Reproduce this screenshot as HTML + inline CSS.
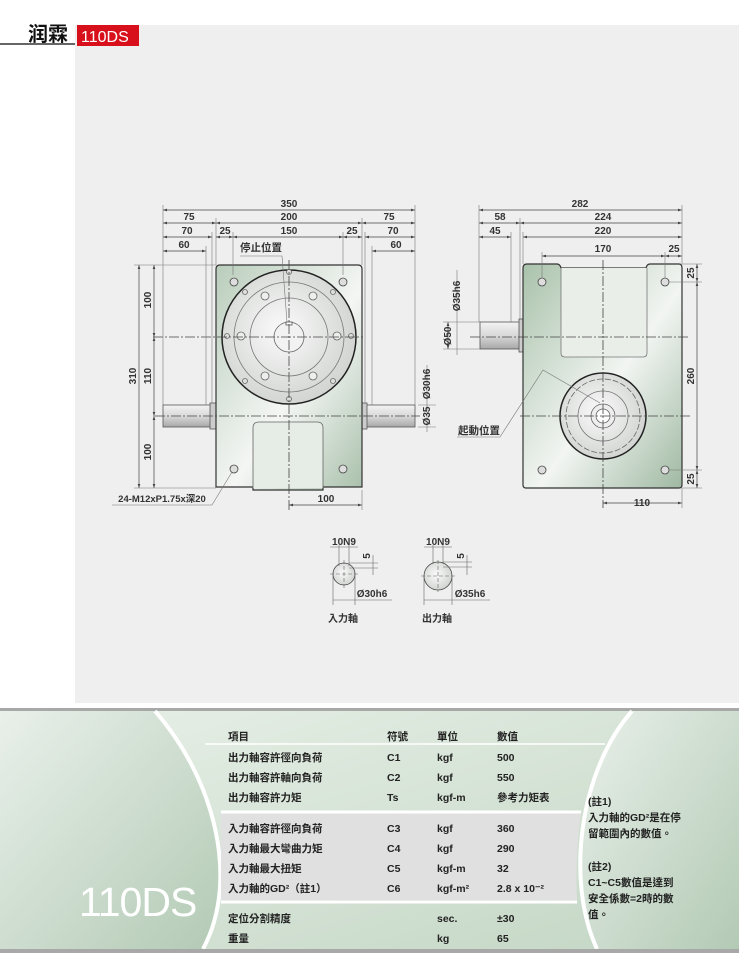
<!DOCTYPE html>
<html><head><meta charset="utf-8"><style>
html,body{margin:0;padding:0;background:#fff;}
svg{display:block;}
text{font-family:"Liberation Sans","Noto Sans CJK TC",sans-serif;}
</style></head><body>
<svg width="739" height="956" viewBox="0 0 739 956" xmlns="http://www.w3.org/2000/svg">
<defs>
<linearGradient id="bd" x1="0" y1="0" x2="1" y2="1">
<stop offset="0" stop-color="#b9cdbb"/><stop offset="0.55" stop-color="#f4f6f4"/><stop offset="1" stop-color="#a9c0ab"/></linearGradient>
<linearGradient id="bd2" x1="0" y1="0" x2="1" y2="1">
<stop offset="0" stop-color="#a9c2ab"/><stop offset="0.55" stop-color="#f2f5f2"/><stop offset="1" stop-color="#9fb9a2"/></linearGradient>
<radialGradient id="disc" cx="0.45" cy="0.45" r="0.6"><stop offset="0" stop-color="#fafafa"/><stop offset="1" stop-color="#cfd2cf"/></radialGradient>
<linearGradient id="sh" x1="0" y1="0" x2="0" y2="1"><stop offset="0" stop-color="#f3f3f3"/><stop offset="0.5" stop-color="#d9d9d9"/><stop offset="1" stop-color="#a8a8a8"/></linearGradient>
<linearGradient id="tb" x1="0" y1="0" x2="1" y2="1"><stop offset="0" stop-color="#e8f0e8"/><stop offset="1" stop-color="#c3d6c4"/></linearGradient>
<linearGradient id="tl" x1="0" y1="0" x2="1" y2="1"><stop offset="0" stop-color="#e9f0ea"/><stop offset="1" stop-color="#b3cab5"/></linearGradient>
<marker id="a" viewBox="0 0 6 6" refX="6" refY="3" markerWidth="6" markerHeight="6" orient="auto-start-reverse"><path d="M0,1 L6,3 L0,5z" fill="#444"/></marker>
</defs>
<!-- header -->
<rect x="75" y="25" width="664" height="678" fill="#efefef"/>
<text x="28" y="41" font-size="20" font-weight="bold" font-family="'Noto Serif CJK SC',serif" fill="#111">润霖</text>
<rect x="0" y="43" width="75" height="2" fill="#666"/>
<rect x="77" y="25" width="62" height="21" fill="#d8101c"/>
<text x="81" y="42" font-size="16" fill="#fff">110DS</text>

<g stroke="#555" stroke-width="0.8" fill="none">
<!-- LEFT VIEW -->
<rect x="163" y="405" width="50" height="22" fill="url(#sh)"/>
<rect x="210" y="403" width="6" height="26" fill="#ccc"/>
<rect x="364" y="405" width="51" height="22" fill="url(#sh)"/>
<rect x="361" y="403" width="6" height="26" fill="#ccc"/>
<path d="M220,265 H358 Q362,265 362,269 V487 H323 V490 H253 V487 H216 V269 Q216,265 220,265Z" fill="url(#bd)" stroke="#333" stroke-width="1.2"/>
<path d="M253,488 V428 Q253,422 259,422 H317 Q323,422 323,428 V488" fill="#e6ece6" stroke="#666"/>
<circle cx="289" cy="337" r="67" fill="url(#disc)" stroke="#222" stroke-width="1.5"/>
<circle cx="289" cy="337" r="55" fill="none" stroke="#777"/>
<circle cx="289" cy="337" r="39" fill="none" stroke="#777"/>
<circle cx="289" cy="337" r="15" fill="#f2f2f2" stroke="#666"/>
<rect x="286" y="322" width="6" height="3" fill="#fff"/>
<g fill="#ddd" stroke="#666">
<circle cx="289" cy="272" r="2.5"/><circle cx="289" cy="399" r="2.5"/><circle cx="227" cy="336" r="2.5"/><circle cx="351" cy="336" r="2.5"/>
<circle cx="245" cy="292" r="2.5"/><circle cx="333" cy="292" r="2.5"/><circle cx="245" cy="381" r="2.5"/><circle cx="333" cy="381" r="2.5"/>
</g>
<g fill="#eee" stroke="#666">
<circle cx="265" cy="296" r="4"/><circle cx="313" cy="296" r="4"/><circle cx="265" cy="376" r="4"/><circle cx="313" cy="376" r="4"/>
<circle cx="241" cy="336" r="4"/><circle cx="337" cy="336" r="4"/>
</g>
<g fill="#ddd" stroke="#444"><circle cx="234" cy="282" r="4"/><circle cx="343" cy="282" r="4"/><circle cx="234" cy="469" r="4"/><circle cx="343" cy="469" r="4"/></g>
<g stroke="#444" stroke-dasharray="10,2,2,2">
<line x1="153" y1="337" x2="363" y2="337"/><line x1="155" y1="416" x2="420" y2="416"/><line x1="289" y1="260" x2="289" y2="510"/>
</g>
<!-- left dims -->
<g marker-start="url(#a)" marker-end="url(#a)" stroke="#444" stroke-width="0.7">
<line x1="163" y1="210" x2="415" y2="210"/>
<line x1="163" y1="223" x2="216" y2="223"/><line x1="216" y1="223" x2="362" y2="223"/><line x1="362" y1="223" x2="415" y2="223"/>
<line x1="163" y1="237" x2="212" y2="237"/><line x1="216" y1="237" x2="233" y2="237"/><line x1="233" y1="237" x2="343" y2="237"/><line x1="343" y1="237" x2="362" y2="237"/><line x1="365" y1="237" x2="415" y2="237"/>
<line x1="163" y1="251" x2="206" y2="251"/><line x1="372" y1="251" x2="415" y2="251"/>
<line x1="139" y1="265" x2="139" y2="488"/>
<line x1="154" y1="265" x2="154" y2="337"/><line x1="154" y1="337" x2="154" y2="416"/><line x1="154" y1="416" x2="154" y2="488"/>
<line x1="289" y1="505" x2="362" y2="505"/>
</g>
<g stroke="#777" stroke-width="0.6">
<line x1="163" y1="205" x2="163" y2="405"/><line x1="415" y1="205" x2="415" y2="405"/>
<line x1="216" y1="218" x2="216" y2="265"/><line x1="362" y1="218" x2="362" y2="265"/>
<line x1="212" y1="232" x2="212" y2="403"/><line x1="365" y1="232" x2="365" y2="403"/>
<line x1="233" y1="232" x2="233" y2="275"/><line x1="343" y1="232" x2="343" y2="275"/>
<line x1="206" y1="246" x2="206" y2="405"/><line x1="372" y1="246" x2="372" y2="405"/>
<line x1="134" y1="265" x2="216" y2="265"/><line x1="134" y1="488" x2="216" y2="488"/>
<line x1="362" y1="490" x2="362" y2="510"/>
<line x1="418" y1="405" x2="436" y2="405"/><line x1="418" y1="427" x2="436" y2="427"/>
<line x1="427" y1="365" x2="427" y2="432"/>
<polyline points="112,505 212,505 232,472"/>
<polyline points="240,256 282,256 287,322"/>
</g>

<!-- RIGHT VIEW -->
<rect x="480" y="322" width="41" height="27" fill="url(#sh)"/>
<rect x="519" y="319" width="5" height="33" fill="#ccc"/>
<path d="M527,264 H557 Q560,264 561,268 H646 Q647,264 650,264 H679 Q682,264 682,268 V485 Q682,488 679,488 H526 Q523,488 523,485 V268 Q523,264 527,264Z" fill="url(#bd2)" stroke="#333" stroke-width="1.2"/>
<path d="M561,268 V353 Q561,357 565,357 H643 Q647,357 647,353 V268" fill="#e9eee9" stroke="#777"/>
<circle cx="603" cy="416" r="43" fill="url(#disc)" stroke="#222" stroke-width="1.5"/>
<circle cx="603" cy="416" r="37" fill="none" stroke="#666" stroke-dasharray="6,2"/>
<circle cx="603" cy="416" r="25" fill="none" stroke="#777"/>
<circle cx="603" cy="416" r="12" fill="#eee" stroke="#666"/>
<circle cx="603" cy="416" r="7" fill="#fff" stroke="#666"/>
<g fill="#ddd" stroke="#444"><circle cx="542" cy="282" r="4"/><circle cx="665" cy="282" r="4"/><circle cx="542" cy="470" r="4"/><circle cx="665" cy="470" r="4"/></g>
<g stroke="#444" stroke-dasharray="10,2,2,2">
<line x1="470" y1="337" x2="690" y2="337"/><line x1="520" y1="416" x2="690" y2="416"/><line x1="603" y1="260" x2="603" y2="508"/>
</g>
<g marker-start="url(#a)" marker-end="url(#a)" stroke="#444" stroke-width="0.7">
<line x1="479" y1="210" x2="682" y2="210"/>
<line x1="479" y1="223" x2="520" y2="223"/><line x1="520" y1="223" x2="682" y2="223"/>
<line x1="479" y1="237" x2="511" y2="237"/><line x1="523" y1="237" x2="682" y2="237"/>
<line x1="542" y1="256" x2="665" y2="256"/><line x1="665" y1="256" x2="682" y2="256"/>
<line x1="697" y1="264" x2="697" y2="282"/><line x1="697" y1="282" x2="697" y2="470"/><line x1="697" y1="470" x2="697" y2="488"/>
<line x1="603" y1="503" x2="682" y2="503"/>
<line x1="448" y1="322" x2="448" y2="349"/>
</g>
<g stroke="#777" stroke-width="0.6">
<line x1="479" y1="205" x2="479" y2="322"/><line x1="682" y1="205" x2="682" y2="264"/>
<line x1="520" y1="218" x2="520" y2="319"/><line x1="511" y1="232" x2="511" y2="322"/><line x1="523" y1="232" x2="523" y2="264"/>
<line x1="542" y1="252" x2="542" y2="278"/><line x1="665" y1="252" x2="665" y2="278"/>
<line x1="682" y1="264" x2="702" y2="264"/><line x1="669" y1="282" x2="702" y2="282"/><line x1="669" y1="470" x2="702" y2="470"/><line x1="682" y1="488" x2="702" y2="488"/><line x1="682" y1="488" x2="682" y2="508"/>
<line x1="443" y1="322" x2="480" y2="322"/><line x1="443" y1="349" x2="480" y2="349"/>
<line x1="457" y1="270" x2="457" y2="355"/>
<polyline points="457,437 500,437 543,370 600,403"/>
</g>

<!-- keys -->
<circle cx="344" cy="574" r="11" fill="url(#disc)" stroke="#444"/>
<circle cx="438" cy="576" r="14" fill="url(#disc)" stroke="#444"/>
<g stroke="#666" stroke-width="0.6">
<line x1="339" y1="545" x2="339" y2="566"/><line x1="349" y1="545" x2="349" y2="566"/><line x1="330" y1="547" x2="358" y2="547"/>
<line x1="349" y1="563" x2="378" y2="563"/><line x1="349" y1="568" x2="378" y2="568"/><line x1="373" y1="555" x2="373" y2="575"/>
<line x1="333" y1="574" x2="333" y2="605"/><line x1="355" y1="574" x2="355" y2="605"/><line x1="333" y1="600" x2="392" y2="600"/>
<line x1="433" y1="545" x2="433" y2="564"/><line x1="443" y1="545" x2="443" y2="564"/><line x1="424" y1="547" x2="452" y2="547"/>
<line x1="443" y1="562" x2="472" y2="562"/><line x1="443" y1="567" x2="472" y2="567"/><line x1="467" y1="555" x2="467" y2="575"/>
<line x1="424" y1="576" x2="424" y2="605"/><line x1="452" y1="576" x2="452" y2="605"/><line x1="424" y1="600" x2="490" y2="600"/>
<line x1="330" y1="574" x2="358" y2="574" stroke-dasharray="4,2"/><line x1="344" y1="560" x2="344" y2="588" stroke-dasharray="4,2"/>
<line x1="421" y1="576" x2="455" y2="576" stroke-dasharray="4,2"/><line x1="438" y1="560" x2="438" y2="592" stroke-dasharray="4,2"/>
</g>
</g>

<g font-size="10" font-weight="bold" fill="#333" text-anchor="middle">
<text x="289" y="207">350</text><text x="189" y="220">75</text><text x="289" y="220">200</text><text x="389" y="220">75</text>
<text x="187" y="234">70</text><text x="225" y="234">25</text><text x="289" y="234">150</text><text x="352" y="234">25</text><text x="393" y="234">70</text>
<text x="184" y="248">60</text><text x="396" y="248">60</text>
<text x="261" y="251" font-size="10.5">停止位置</text>
<text x="326" y="502">100</text>
<text x="162" y="502" font-size="9.5">24-M12xP1.75x深20</text>
<text x="580" y="207">282</text><text x="500" y="220">58</text><text x="603" y="220">224</text>
<text x="495" y="234">45</text><text x="603" y="234">220</text>
<text x="603" y="252">170</text><text x="674" y="252">25</text>
<text x="642" y="506">110</text>
<text x="479" y="434" font-size="10.5">起動位置</text>
<text x="344" y="545">10N9</text><text x="438" y="545">10N9</text>
<text x="372" y="597">Ø30h6</text><text x="470" y="597">Ø35h6</text>
<text x="343" y="622">入力軸</text><text x="437" y="622">出力軸</text>
<text transform="translate(136,376) rotate(-90)">310</text>
<text transform="translate(151,300) rotate(-90)">100</text>
<text transform="translate(151,376) rotate(-90)">110</text>
<text transform="translate(151,452) rotate(-90)">100</text>
<text transform="translate(430,384) rotate(-90)">Ø30h6</text>
<text transform="translate(430,416) rotate(-90)">Ø35</text>
<text transform="translate(460,296) rotate(-90)">Ø35h6</text>
<text transform="translate(451,336) rotate(-90)">Ø50</text>
<text transform="translate(694,273) rotate(-90)">25</text>
<text transform="translate(694,376) rotate(-90)">260</text>
<text transform="translate(694,479) rotate(-90)">25</text>
<text transform="translate(370,556) rotate(-90)">5</text>
<text transform="translate(464,556) rotate(-90)">5</text>
</g>

<!-- bottom table -->
<rect x="0" y="708" width="739" height="3" fill="#a8a8a8"/>
<rect x="0" y="711" width="739" height="238" fill="url(#tb)"/>
<path d="M0,711 H155 C215,780 240,880 203,949 H0Z" fill="url(#tl)"/>
<path d="M155,711 C215,780 240,880 203,949" fill="none" stroke="#fff" stroke-width="4"/>
<path d="M632,711 C580,770 565,880 597,949 H739 V711Z" fill="url(#tl)"/>
<path d="M632,711 C580,770 565,880 597,949" fill="none" stroke="#fff" stroke-width="4"/>
<path d="M221,812 H581 Q575,855 577,900 H221Z" fill="#e0e0e0"/>
<path d="M221,812 H581" stroke="#fff" stroke-width="3"/>
<path d="M221,902 H577" stroke="#fff" stroke-width="3"/>
<path d="M205,744 H605" stroke="#fff" stroke-width="1.5"/>
<rect x="0" y="949" width="739" height="4" fill="#a8a8a8"/>
<text x="79" y="916" font-size="41" fill="#fff" letter-spacing="-1">110DS</text>
<g font-size="10.5" font-weight="bold" fill="#222" font-family="'Liberation Sans','Noto Sans CJK TC',sans-serif">
<text x="228" y="740">項目</text><text x="387" y="740">符號</text><text x="437" y="740">單位</text><text x="497" y="740">數值</text>
<text x="228" y="761">出力軸容許徑向負荷</text><text x="387" y="761">C1</text><text x="437" y="761">kgf</text><text x="497" y="761">500</text>
<text x="228" y="781">出力軸容許軸向負荷</text><text x="387" y="781">C2</text><text x="437" y="781">kgf</text><text x="497" y="781">550</text>
<text x="228" y="801">出力軸容許力矩</text><text x="387" y="801">Ts</text><text x="437" y="801">kgf-m</text><text x="497" y="801">參考力矩表</text>
<text x="228" y="832">入力軸容許徑向負荷</text><text x="387" y="832">C3</text><text x="437" y="832">kgf</text><text x="497" y="832">360</text>
<text x="228" y="852">入力軸最大彎曲力矩</text><text x="387" y="852">C4</text><text x="437" y="852">kgf</text><text x="497" y="852">290</text>
<text x="228" y="872">入力軸最大扭矩</text><text x="387" y="872">C5</text><text x="437" y="872">kgf-m</text><text x="497" y="872">32</text>
<text x="228" y="892">入力軸的GD²（註1）</text><text x="387" y="892">C6</text><text x="437" y="892">kgf-m²</text><text x="497" y="892">2.8 x 10⁻²</text>
<text x="228" y="922">定位分割精度</text><text x="437" y="922">sec.</text><text x="497" y="922">±30</text>
<text x="228" y="942">重量</text><text x="437" y="942">kg</text><text x="497" y="942">65</text>
<text x="588" y="805">(註1)</text>
<text x="588" y="821">入力軸的GD²是在停</text>
<text x="588" y="837">留範圍內的數值。</text>
<text x="588" y="870">(註2)</text>
<text x="588" y="886">C1~C5數值是達到</text>
<text x="588" y="902">安全係數=2時的數</text>
<text x="588" y="918">值。</text>
</g>
</svg>
</body></html>
